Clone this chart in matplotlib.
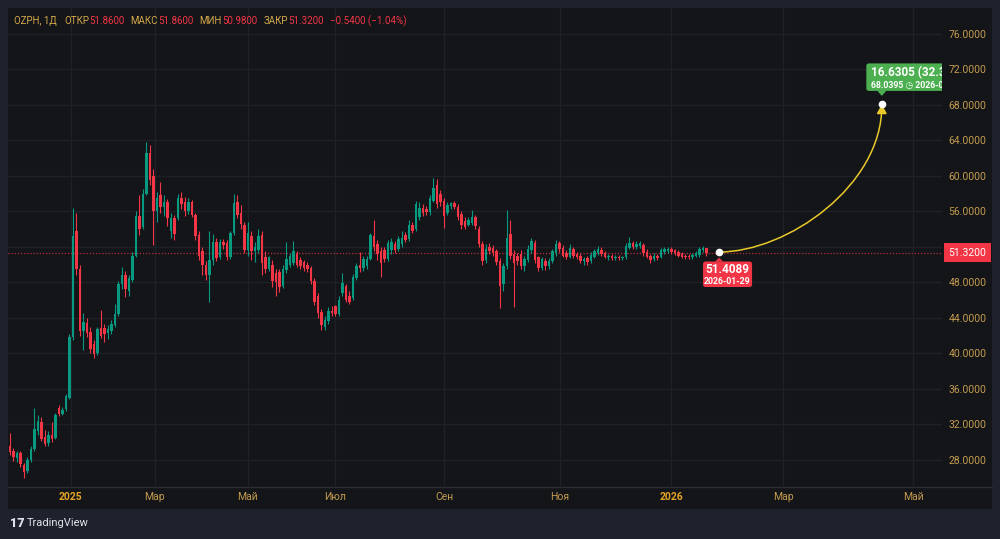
import matplotlib
matplotlib.use("Agg")
import numpy as np
import matplotlib.pyplot as plt
import matplotlib.transforms as mtransforms
from matplotlib.path import Path
from matplotlib.patches import FancyArrowPatch, FancyBboxPatch, Polygon, Rectangle
from matplotlib.transforms import IdentityTransform

# daily candles OZPH (bar index = trading day on chart)
opens = [29.6, 29.0, 28.2, 28.8, 27.4, 26.7, 28.0, 29.2, 31.3, 32.3,
         30.6, 29.9, 30.8, 30.5, 33.8, 33.2, 33.7, 35.0, 41.8, 53.8,
         49.5, 42.5, 43.4, 42.4, 41.0, 40.0, 42.8, 42.9, 42.3, 42.5,
         43.2, 44.4, 47.8, 48.8, 47.0, 48.3, 51.0, 55.5, 54.2, 58.0,
         62.6, 60.0, 56.0, 57.8, 56.5, 57.0, 53.8, 55.2, 55.2, 57.5,
         57.0, 56.0, 57.0, 55.6, 53.3, 51.5, 50.0, 48.8, 50.5, 52.5,
         50.8, 52.5, 52.4, 50.8, 53.5, 57.0, 55.8, 54.5, 51.6, 53.2,
         51.5, 51.6, 53.3, 50.8, 49.5, 50.0, 49.0, 49.2, 47.6, 49.4,
         50.0, 50.2, 51.2, 50.5, 50.3, 50.0, 49.6, 48.2, 46.5, 44.7,
         43.0, 43.6, 44.8, 45.3, 44.4, 46.8, 47.6, 46.5, 46.2, 48.5,
         50.0, 49.6, 49.8, 50.6, 53.2, 52.3, 51.5, 51.6, 50.6, 51.6,
         52.3, 51.8, 52.3, 53.3, 52.9, 54.4, 54.0, 55.3, 56.4, 56.3,
         55.9, 57.2, 59.0, 57.9, 57.2, 55.8, 56.6, 56.9, 56.5, 55.7,
         54.9, 54.5, 54.7, 55.3, 54.0, 52.3, 50.5, 52.0, 51.9, 51.5,
         50.4, 47.8, 49.8, 53.4, 51.2, 51.0, 51.2, 49.8, 50.5, 51.6,
         52.4, 50.8, 49.6, 50.4, 49.8, 50.4, 51.3, 52.4, 51.9, 51.3,
         50.9, 51.8, 51.2, 51.0, 50.4, 50.7, 50.4, 50.9, 51.3, 51.6,
         51.3, 50.8, 51.0, 50.7, 50.9, 50.7, 50.8, 51.9, 52.4, 52.0,
         52.1, 52.2, 51.4, 51.0, 50.6, 51.0, 50.8, 51.4, 51.5, 51.8,
         51.6, 51.4, 51.2, 51.0, 51.0, 50.8, 51.0, 51.1, 51.6, 51.86]
highs = [31.0, 29.3, 29.0, 29.0, 27.6, 28.3, 29.6, 33.8, 33.0, 32.8,
         31.4, 31.2, 32.3, 33.3, 34.2, 33.9, 35.4, 42.2, 56.4, 55.8,
         50.0, 44.5, 44.0, 43.0, 41.5, 43.0, 44.9, 43.3, 43.2, 43.8,
         45.5, 48.1, 49.7, 49.3, 48.8, 51.4, 56.0, 57.8, 58.5, 63.8,
         63.5, 60.8, 58.2, 59.3, 57.8, 57.4, 55.8, 55.6, 58.0, 58.2,
         57.6, 57.5, 57.3, 55.8, 53.8, 52.0, 50.4, 53.8, 53.4, 53.0,
         52.9, 52.9, 52.8, 53.8, 58.0, 57.8, 56.7, 54.8, 54.8, 53.8,
         52.5, 54.0, 53.8, 51.5, 51.0, 50.5, 49.5, 49.5, 50.0, 52.5,
         51.3, 52.6, 51.5, 50.8, 50.5, 50.3, 49.8, 48.5, 46.8, 45.0,
         44.2, 45.2, 45.3, 45.4, 46.4, 49.0, 47.8, 47.0, 48.9, 50.2,
         51.4, 51.0, 51.0, 53.6, 55.0, 52.8, 52.0, 52.0, 52.8, 53.0,
         52.7, 53.2, 53.8, 53.7, 55.0, 54.8, 57.2, 57.0, 56.8, 56.6,
         57.8, 59.7, 59.6, 58.4, 57.5, 57.0, 57.1, 57.2, 56.8, 56.0,
         55.3, 55.3, 56.1, 55.6, 54.3, 52.6, 52.3, 52.4, 52.2, 51.8,
         50.7, 50.2, 56.1, 55.0, 51.6, 51.3, 51.6, 51.0, 52.2, 53.0,
         52.8, 51.0, 50.9, 50.7, 50.7, 51.8, 52.8, 52.7, 52.2, 51.6,
         52.3, 52.0, 51.4, 51.3, 50.9, 51.0, 51.4, 51.8, 52.1, 52.0,
         51.5, 51.2, 51.2, 51.1, 51.1, 51.0, 52.4, 53.1, 52.7, 52.6,
         52.7, 52.4, 51.7, 51.2, 51.3, 51.2, 51.9, 52.0, 52.0, 52.0,
         51.8, 51.6, 51.4, 51.2, 51.2, 51.3, 51.5, 52.0, 52.1, 51.86]
lows = [28.5, 27.9, 27.8, 27.2, 26.0, 26.5, 27.8, 29.0, 30.8, 30.1,
        29.5, 29.6, 30.0, 30.3, 32.9, 33.0, 33.5, 34.8, 41.5, 48.8,
        42.0, 40.4, 41.8, 40.0, 39.5, 39.8, 41.7, 41.3, 41.6, 42.2,
        43.0, 44.2, 47.2, 46.3, 46.5, 48.0, 50.8, 53.3, 54.0, 57.8,
        59.0, 52.2, 54.8, 55.8, 55.5, 54.3, 53.0, 52.8, 55.0, 56.3,
        55.5, 55.7, 55.3, 52.8, 50.5, 48.8, 48.3, 45.8, 50.0, 50.4,
        50.6, 51.8, 50.5, 50.6, 53.3, 55.2, 54.0, 51.3, 51.0, 50.5,
        50.3, 51.3, 48.8, 49.0, 49.3, 47.5, 46.5, 46.9, 47.3, 49.0,
        49.7, 50.0, 49.7, 49.5, 49.3, 49.2, 47.8, 45.4, 44.0, 42.6,
        42.6, 43.3, 44.2, 44.2, 44.2, 46.5, 45.8, 45.5, 46.0, 48.3,
        49.2, 49.3, 49.5, 50.5, 51.5, 50.5, 48.6, 50.3, 50.4, 51.2,
        51.3, 51.5, 52.0, 52.5, 52.7, 53.5, 53.8, 55.0, 55.5, 55.6,
        55.6, 57.0, 56.4, 56.6, 54.1, 55.6, 56.3, 56.2, 55.0, 54.0,
        54.0, 54.3, 54.5, 54.0, 52.0, 50.0, 50.2, 51.2, 51.0, 50.0,
        45.1, 47.0, 49.5, 50.6, 45.2, 50.0, 49.5, 49.3, 50.3, 51.3,
        50.2, 49.3, 49.4, 49.4, 49.5, 50.2, 51.0, 51.4, 50.8, 50.6,
        50.7, 50.7, 50.6, 50.2, 50.0, 50.0, 50.2, 50.7, 51.1, 51.0,
        50.7, 50.5, 50.5, 50.5, 50.5, 50.5, 50.6, 51.7, 51.8, 51.8,
        51.9, 51.0, 50.7, 50.2, 50.4, 50.5, 50.7, 51.2, 51.3, 51.2,
        51.1, 50.8, 50.7, 50.6, 50.6, 50.6, 50.8, 50.9, 51.4, 50.98]
closes = [28.9, 28.3, 28.8, 27.5, 26.6, 28.0, 29.2, 31.5, 32.4, 30.4,
          29.8, 30.8, 30.3, 33.0, 33.2, 33.6, 35.2, 41.8, 53.2, 49.5,
          42.5, 43.5, 42.3, 40.5, 39.9, 42.7, 42.0, 42.2, 42.7, 43.3,
          44.4, 47.8, 48.8, 47.2, 48.5, 51.0, 55.5, 54.0, 58.0, 62.6,
          59.5, 56.0, 57.5, 56.5, 57.0, 55.2, 55.2, 53.4, 57.5, 56.8,
          56.0, 57.0, 55.6, 53.2, 51.0, 50.0, 48.8, 50.5, 52.5, 50.7,
          52.5, 52.2, 50.8, 53.5, 56.9, 55.6, 54.6, 51.6, 53.5, 51.5,
          52.0, 53.2, 50.2, 49.5, 50.8, 48.2, 48.0, 47.5, 49.5, 50.6,
          51.0, 51.5, 50.0, 49.8, 49.6, 49.5, 48.2, 45.8, 44.5, 43.2,
          43.8, 44.8, 44.5, 44.4, 46.0, 47.9, 46.0, 45.8, 48.6, 49.8,
          49.6, 50.6, 50.6, 53.3, 52.0, 51.2, 50.2, 50.6, 52.4, 52.5,
          51.6, 52.9, 53.0, 52.8, 54.5, 53.8, 56.8, 56.4, 55.8, 55.9,
          57.5, 58.6, 56.8, 57.0, 55.5, 56.7, 56.9, 56.5, 55.3, 54.4,
          54.2, 55.0, 55.3, 54.3, 52.3, 50.4, 51.8, 51.5, 51.3, 50.3,
          47.6, 49.8, 53.0, 51.0, 50.2, 50.4, 49.8, 50.6, 51.8, 52.6,
          50.5, 49.6, 50.6, 49.8, 50.4, 51.5, 52.3, 51.7, 51.0, 50.9,
          51.9, 51.0, 50.9, 50.4, 50.6, 50.3, 51.1, 51.5, 51.8, 51.2,
          50.9, 51.0, 50.7, 50.9, 50.7, 50.8, 52.1, 52.4, 52.0, 52.3,
          52.4, 51.3, 50.9, 50.5, 51.0, 50.7, 51.6, 51.8, 51.8, 51.4,
          51.3, 51.0, 50.9, 50.8, 50.8, 51.1, 51.3, 51.8, 51.86, 51.32]

tick_pos = [17.3, 41.3, 67.9, 92.9, 124.1, 157.1, 189.0, 220.9, 258.0]
tick_labels = ['2025', 'Мар', 'Май', 'Июл', 'Сен', 'Ноя', '2026', 'Мар', 'Май']
price_ticks = list(range(28, 80, 4))

# forecast drawing
start_idx, start_price, start_date = 202.6, 51.4089, '2026-01-29'
target_idx, target_price, target_date = 249.1, 68.0395, '2026-04-17'
target_change, target_pct = 16.6305, 32.35

BG = '#1e222c'
PANEL = '#131519'
GRID = '#1e2127'
UP = '#089981'
DOWN = '#f23645'
GOLD = '#c49b4f'
GOLD_H = '#d6a94a'
YEAR = '#e6a526'
YELLOW = '#e9c82a'
GREEN = '#4caf50'

plt.rcParams['font.family'] = ['Roboto', 'DejaVu Sans']

W, H = 1000, 539
fig = plt.figure(figsize=(W / 100, H / 100), dpi=100, facecolor=BG)
fig.patches.append(Rectangle((8 / W, (H - 509) / H), 984 / W, 501 / H, transform=fig.transFigure,
                             facecolor=PANEL, edgecolor='none', zorder=-1))
fig.lines.append(plt.Line2D([8 / W, 992 / W], [(H - 486.5) / H] * 2, transform=fig.transFigure,
                            color='#2a2e37', linewidth=1, zorder=-0.5))
ax = fig.add_axes([8 / W, (H - 486) / H, 934 / W, 478 / H], facecolor=PANEL)

o = np.array(opens)
c = np.array(closes)
hi = np.array(highs)
lo = np.array(lows)
idx = np.arange(len(c))
colors = np.where(c >= o, UP, DOWN)
ax.vlines(idx, lo, hi, colors=colors, linewidth=0.8, zorder=3)
ax.bar(idx, np.maximum(np.abs(c - o), 0.1), bottom=np.minimum(o, c), width=0.72,
       color=colors, linewidth=0, zorder=3)

ax.set_xticks(tick_pos)
ax.set_xticklabels(tick_labels)
ax.set_yticks(price_ticks)
ax.set_yticklabels([f'{v:.4f}' for v in price_ticks])
ax.grid(True, color=GRID, linewidth=1)
ax.set_axisbelow(True)
ax.yaxis.tick_right()
ax.tick_params(axis='y', length=0, pad=4.5, labelsize=7.5, labelcolor=GOLD)
ax.tick_params(axis='x', length=0, pad=4.5, labelsize=7.5, labelcolor=GOLD)
for lab in ax.get_xticklabels():
    if lab.get_text() in ('2025', '2026'):
        lab.set_fontweight('bold')
        lab.set_color(YEAR)
for s in ax.spines.values():
    s.set_visible(False)
ax.set_xlim(-0.57, 266.3)
ax.set_ylim(25.05, 78.9)
ax.set_autoscale_on(False)

# last price line + label
last = closes[-1]
ax.axhline(last, color=DOWN, linestyle=(0, (1, 1.5)), linewidth=0.9, alpha=0.75, zorder=2)
blend = mtransforms.blended_transform_factory(ax.transAxes, ax.transData)
ax.text(1.0068, last, f'{last:.4f}', transform=blend, ha='left', va='center', color='white',
        fontsize=7.5, bbox=dict(boxstyle='square,pad=0.42', fc=DOWN, ec='none'), clip_on=False, zorder=10)

# forecast curve
dx = target_idx - start_idx
dy = target_price - start_price
path = Path([(start_idx, start_price), (start_idx + 0.42 * dx, start_price),
             (target_idx, start_price + 0.45 * dy), (target_idx, target_price)],
            [Path.MOVETO, Path.CURVE4, Path.CURVE4, Path.CURVE4])
ax.add_patch(FancyArrowPatch(path=path, arrowstyle='-|>,head_length=0.45,head_width=0.25',
                             mutation_scale=12, color=YELLOW, linewidth=1.1, zorder=6))
ax.plot([start_idx, target_idx], [start_price, target_price], 'o', color='white',
        markersize=4.5, zorder=8)

ident = IdentityTransform()
sx, sy = ax.transData.transform((start_idx, start_price))
ax.add_artist(FancyBboxPatch((sx - 16, sy - 35), 49, 25.5, boxstyle='round,pad=0,rounding_size=2.5',
                             transform=ident, fc=DOWN, ec='none', zorder=9))
ax.add_artist(Polygon([(sx - 4, sy - 9.6), (sx + 4, sy - 9.6), (sx, sy - 5.5)], closed=True,
                      transform=ident, fc=DOWN, ec='none', zorder=9))
ax.text(sx + 8.5, sy - 17.7, f'{start_price:.4f}', transform=ident, ha='center', va='center',
        fontsize=8.5, fontweight='bold', color='white', zorder=10)
ax.text(sx + 8.5, sy - 29.4, start_date, transform=ident, ha='center', va='center',
        fontsize=6.3, fontweight='bold', color='white', zorder=10)

tx, ty = ax.transData.transform((target_idx, target_price))
ax.add_artist(FancyBboxPatch((tx - 15.5, ty + 13.5), 110, 27.5, boxstyle='round,pad=0,rounding_size=2.5',
                             transform=ident, fc=GREEN, ec='none', zorder=9))
ax.add_artist(Polygon([(tx - 4.5, ty + 13.6), (tx + 4.5, ty + 13.6), (tx, ty + 8.5)], closed=True,
                      transform=ident, fc=GREEN, ec='none', zorder=9))
ax.text(tx - 10.5, ty + 32, f'{target_change:.4f} ({target_pct:.2f}%)', transform=ident,
        ha='left', va='center', fontsize=8.5, fontweight='bold', color='white', zorder=10, clip_on=True)
ax.text(tx - 10.5, ty + 18.7, f'{target_price:.4f} \u25f7 {target_date}', transform=ident,
        ha='left', va='center', fontsize=6.3, fontweight='bold', color='white', zorder=10, clip_on=True)

# header, pieces chained one after another
chg = closes[-1] - closes[-2]
pct = chg / closes[-2] * 100
header = [('OZPH, 1Д', GOLD_H, 0), ('ОТКР', GOLD_H, 5), (f'{opens[-1]:.4f}', DOWN, 0),
          ('МАКС', GOLD_H, 4.5), (f'{highs[-1]:.4f}', DOWN, 0), ('МИН', GOLD_H, 4.5),
          (f'{lows[-1]:.4f}', DOWN, 0), ('ЗАКР', GOLD_H, 4.5), (f'{closes[-1]:.4f}', DOWN, 0),
          (f'{chg:.4f} ({pct:.2f}%)'.replace('-', '\u2212'), DOWN, 4.5)]
prev = None
for txt, col, gap in header:
    if prev is None:
        prev = fig.text(14.5 / W, 1 - 21 / H, txt, ha='left', va='center', fontsize=7, color=col)
    else:
        prev = ax.annotate(txt, xy=(1, 0.5), xycoords=prev, xytext=(gap, 0), textcoords='offset points',
                           ha='left', va='center', fontsize=7, color=col)

# footer logo
fig.text(10 / W, 1 - 523.5 / H, '17', ha='left', va='center', fontsize=9, fontweight='heavy', color='#e0e3eb')
fig.text(26.5 / W, 1 - 523.5 / H, 'TradingView', ha='left', va='center', fontsize=8,
         color='#e0e3eb')

fig.savefig('out.png', dpi=100, facecolor=BG)
